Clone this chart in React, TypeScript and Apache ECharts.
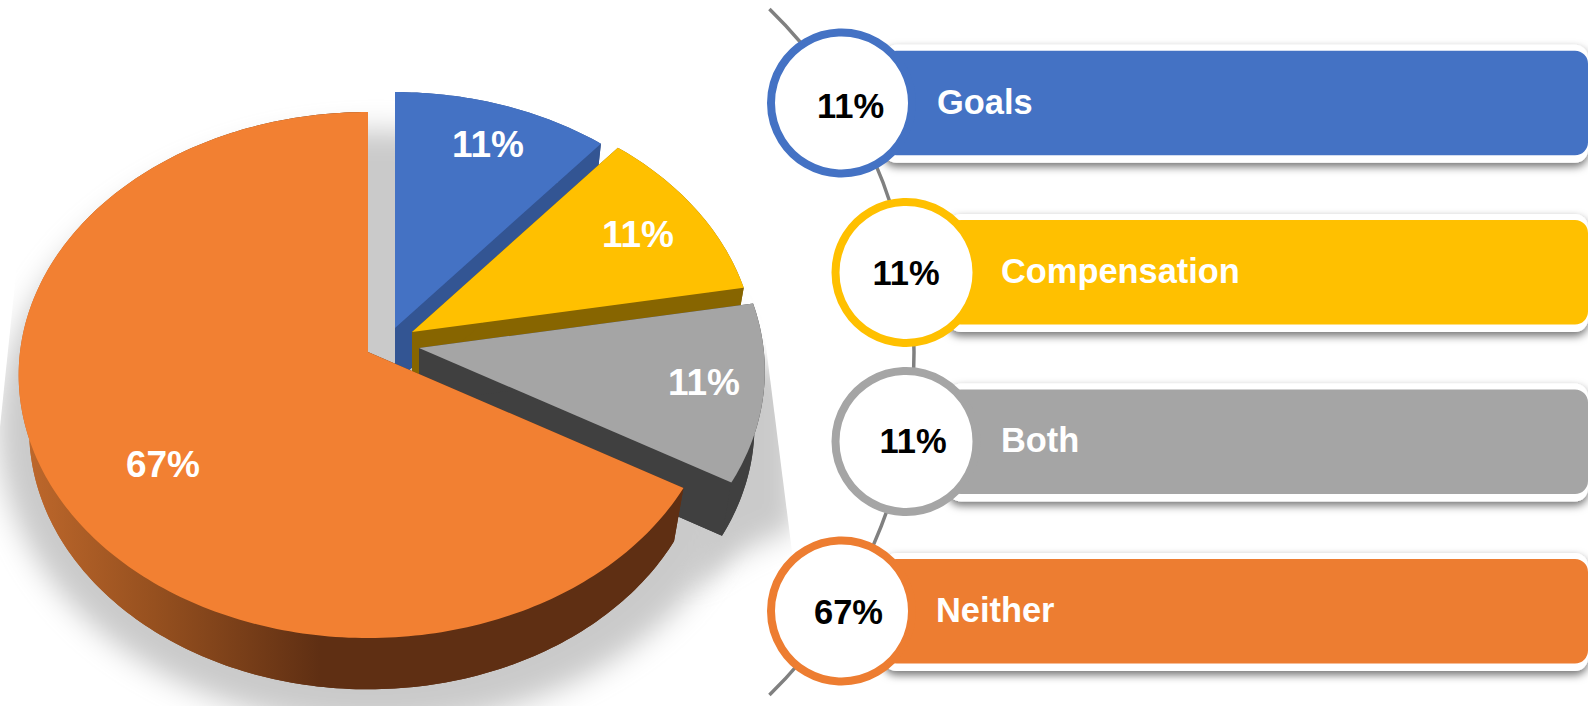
import React, { useEffect, useRef } from "react";
import * as echarts from "echarts";

const CATEGORIES = ["Goals", "Compensation", "Both", "Neither"];
const SHARES = [11.1, 11.1, 11.1, 66.7];
const TOP_COLORS = ["#4472C4", "#FFC000", "#A5A5A5", "#F28032"];
const SIDE_COLORS = ["#335593", "#876500", "#404040", "#5F2F13"];
const BAR_COLORS = ["#4472C4", "#FFC000", "#A5A5A5", "#ED7D31"];

// layout constants
const APEX = [[395, 328], [412, 332], [419, 348], [368, 352]];
const SLICE_SCALE = [0.983, 0.983, 0.99, 1];
const PIE_LABEL = [[488, 144], [638, 234], [704, 382], [163, 464]];
const RX = 348, RY = 261, PERSP = 0.0875;
const DEPTH_Y = 55, SCALE_BX = 0.97, SCALE_BY = 0.987;
const CIRCLE = [[841.5, 103], [906, 272.5], [906, 441.5], [841.5, 611]];
const BAR_TOP = [50.7, 220, 389.4, 558.9];
const BAR_H = 104.6;
const PCT_POS = [[850.5, 106], [906, 272.5], [913, 441], [848.5, 612]];
const NAME_POS = [[937, 101.5], [1001, 271], [1001, 440], [936, 610]];
const OFF_X = 1000;
const FONT = '"Liberation Sans", Arial, sans-serif';

const project = (deg: number, k: number) => {
  const t = (deg * Math.PI) / 180;
  const u = Math.sin(t), v = -Math.cos(t);
  const w = 1 - PERSP * v;
  return [(k * RX * u) / w, (k * RY * v) / w];
};

const sum = (a: number[]) => a.reduce((p, c) => p + c, 0);

function renderPie(params: any, api: any) {
  const i = params.dataIndex;
  const total = sum(SHARES);
  const a0 = (sum(SHARES.slice(0, i)) / total) * 360;
  const a1 = a0 + (api.value(0) / total) * 360;
  const [ax, ay] = APEX[i];
  const k = SLICE_SCALE[i];
  const topP = (d: number) => { const [x, y] = project(d, k); return [ax + x, ay + y]; };
  const botP = (d: number) => { const [x, y] = project(d, k); return [ax + x * SCALE_BX, ay + y * SCALE_BY + DEPTH_Y]; };
  const degs: number[] = [];
  for (let d = a0; d < a1; d += 1) degs.push(d);
  degs.push(a1);
  const topArc = degs.map(topP);
  const botArc = degs.map(botP);
  const sideFill: any = i === 3
    ? new echarts.graphic.LinearGradient(19, 0, 320, 0, [
        { offset: 0, color: "#C0692C" },
        { offset: 0.45, color: "#96501F" },
        { offset: 1, color: "#5F2F13" },
      ], true)
    : SIDE_COLORS[i];
  const poly = (points: number[][], fill: any) => ({ type: "polygon", shape: { points }, style: { fill }, silent: true });
  const children: any[] = [
    poly([[ax, ay + DEPTH_Y], ...botArc], sideFill),
    poly([...topArc, ...botArc.slice().reverse()], sideFill),
    poly([[ax, ay], topP(a1), botP(a1), [ax, ay + DEPTH_Y]], sideFill),
    poly([[ax, ay], topP(a0), botP(a0), [ax, ay + DEPTH_Y]], sideFill),
    poly([[ax, ay], ...topArc], TOP_COLORS[i]),
    {
      type: "text",
      style: {
        text: `${Math.round(api.value(0))}%`,
        x: PIE_LABEL[i][0], y: PIE_LABEL[i][1],
        fill: "#FFFFFF", font: `bold 37px ${FONT}`, align: "center", verticalAlign: "middle",
      },
      silent: true,
    },
  ];
  return { type: "group", children };
}

function renderShadow() {
  const ell: number[][] = [[-3000, 428]];
  for (let d = 0; d <= 360; d += 3) {
    const t = (d * Math.PI) / 180;
    ell.push([376 - 378 * Math.cos(t) - OFF_X, 428 + 298 * Math.sin(t)]);
  }
  const wedgeShape = [[700, 350], [795, 370], [795, 528], [745, 550], [690, 585]];
  const wedge = wedgeShape.map(([x, y]) => [x - OFF_X, y]);
  wedge.push([-3000, 585], [690 - OFF_X, 585]);
  const blur = (points: number[][]) => ({
    type: "polygon",
    shape: { points },
    style: { fill: "#000", shadowColor: "#CACACA", shadowBlur: 28, shadowOffsetX: OFF_X, shadowOffsetY: 0 },
    silent: true,
  });
  const mask = (points: number[][]) => ({ type: "polygon", shape: { points }, style: { fill: "#FFFFFF" }, silent: true });
  return {
    type: "group",
    children: [
      blur(ell),
      blur(wedge),
      mask([[0, 0], [44.6, 0], [0, 427]]),
      mask([[722, 0], [1000, 0], [1000, 706], [811.6, 706]]),
    ],
  };
}

function renderCard(params: any, api: any) {
  const i = params.dataIndex;
  const [cx, cy] = CIRCLE[i];
  const left = cx + 42;
  const top = BAR_TOP[i];
  const children: any[] = [];
  if (i === 0) {
    children.push({
      type: "arc",
      shape: { cx: 435, cy: 352, r: 479, startAngle: -0.798, endAngle: 0.798, clockwise: true },
      style: { stroke: "#808080", lineWidth: 3.5, fill: "none" },
      silent: true,
    });
  }
  children.push(
    {
      type: "rect",
      shape: { x: left, y: top - 6, width: 1588 - left, height: BAR_H + 13.5, r: 13 },
      style: { fill: "#FFFFFF", shadowColor: "rgba(0,0,0,0.55)", shadowBlur: 9, shadowOffsetY: 4 },
      silent: true,
    },
    {
      type: "rect",
      shape: { x: left, y: top, width: 1588 - left, height: BAR_H, r: 13 },
      style: { fill: BAR_COLORS[i] },
      silent: true,
    },
    {
      type: "circle",
      shape: { cx, cy, r: 70.5 },
      style: { fill: "#FFFFFF", stroke: BAR_COLORS[i], lineWidth: 8 },
      silent: true,
    },
    {
      type: "text",
      style: {
        text: `${Math.round(api.value(0))}%`,
        x: PCT_POS[i][0], y: PCT_POS[i][1],
        fill: "#000000", font: `bold 34.5px ${FONT}`, align: "center", verticalAlign: "middle",
      },
      silent: true,
    },
    {
      type: "text",
      style: {
        text: CATEGORIES[i],
        x: NAME_POS[i][0], y: NAME_POS[i][1],
        fill: "#FFFFFF", font: `bold 34.4px ${FONT}`, align: "left", verticalAlign: "middle",
      },
      silent: true,
    }
  );
  return { type: "group", children };
}

export default function App() {
  const ref = useRef<HTMLDivElement>(null);
  useEffect(() => {
    const chart = echarts.init(ref.current!, undefined, { renderer: "svg" });
    const rows = SHARES.map((v) => [v]);
    chart.setOption({
      animation: false,
      backgroundColor: "#FFFFFF",
      tooltip: { show: false },
      series: [
        { type: "custom", coordinateSystem: "none", silent: true, data: [[1]], renderItem: renderShadow, z: 1 },
        { type: "custom", coordinateSystem: "none", silent: true, data: rows, renderItem: renderPie, z: 2 },
        { type: "custom", coordinateSystem: "none", silent: true, data: rows, renderItem: renderCard, z: 3 },
      ],
    });
    return () => chart.dispose();
  }, []);
  return <div ref={ref} style={{ position: "absolute", left: 0, top: 0, width: 1588, height: 706 }} />;
}
